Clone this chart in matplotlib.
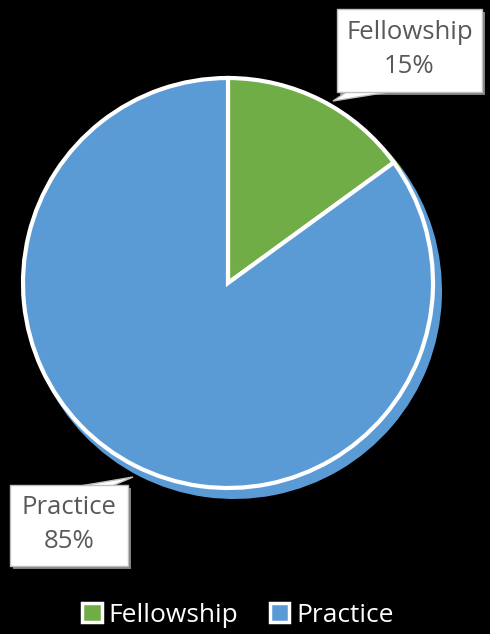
import matplotlib.pyplot as plt
from matplotlib.patches import Patch, Polygon, Rectangle

labels = ['Fellowship', 'Practice']
values = [15, 85]
colors = ['#70AD47', '#5B9BD5']

W, H = 490, 634
fig = plt.figure(figsize=(4.9, 6.34), dpi=100, facecolor='black')
ax = fig.add_axes([0, 0, 1, 1])
ax.set_facecolor('black')

cx, cy, r = 228, H - 283, 205

# shadow
ax.pie(values, colors=colors, startangle=90, counterclock=False,
       center=(cx + 6, cy - 8), radius=r + 3, frame=True,
       wedgeprops=dict(linewidth=0))
# main pie
ax.pie(values, colors=colors, startangle=90, counterclock=False,
       center=(cx, cy), radius=r, frame=True,
       wedgeprops=dict(edgecolor='white', linewidth=3))
ax.set_xlim(0, W)
ax.set_ylim(0, H)
ax.set_aspect('equal')
ax.axis('off')

font = 'Open Sans'


def callout(x0, y0, x1, y1, tip, base, text):
    # box given in pixel coords from top-left
    ax.add_patch(Rectangle((x0 + 3, H - y1 - 3), x1 - x0, y1 - y0, facecolor='#7F7F7F',
                           edgecolor='none', zorder=3))
    ax.add_patch(Polygon([[base[0], H - base[1]], [base[2], H - base[3]], [tip[0], H - tip[1]]],
                         closed=True, facecolor='white', edgecolor='#BFBFBF', linewidth=1, zorder=4))
    ax.add_patch(Rectangle((x0, H - y1), x1 - x0, y1 - y0, facecolor='white',
                           edgecolor='#BFBFBF', linewidth=1, zorder=5))
    ax.text((x0 + x1) / 2, H - (y0 + y1) / 2 + 1, text, ha='center', va='center',
            fontsize=18.5, color='#595959', family=font, linespacing=1.5, zorder=6)


callout(337, 9, 482, 92, (333, 101), (348, 91, 395, 91), 'Fellowship\n15%')
callout(10, 485, 128, 566, (133, 477), (80, 486, 112, 486), 'Practice\n85%')

handles = [Patch(facecolor=c, edgecolor='white', linewidth=2.5) for c in colors]
leg = ax.legend(handles, labels, loc='lower center', bbox_to_anchor=(0.485, -0.028),
                ncol=2, frameon=False, handlelength=0.75, handleheight=0.75,
                handletextpad=0.25, columnspacing=1.2, prop=dict(family=font, size=19))
for t in leg.get_texts():
    t.set_color('white')

fig.savefig('out.png', dpi=100, facecolor='black')
